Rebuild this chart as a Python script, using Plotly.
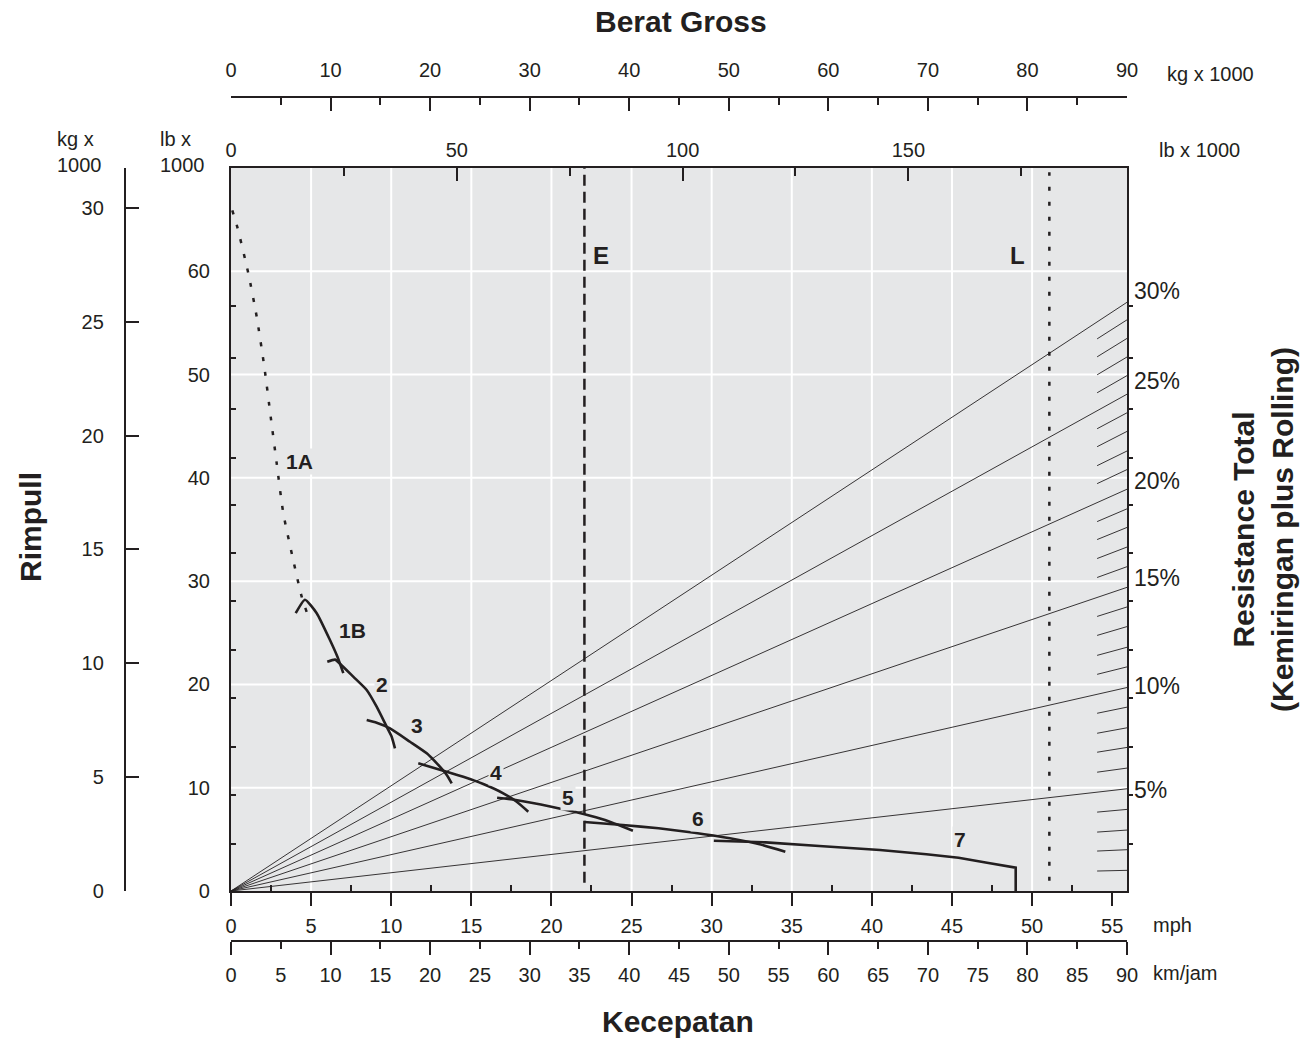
import plotly.graph_objects as go

# ---------------- data ----------------
KMH_PER_MPH = 1.609344
LB_PER_KG = 2.20462

# axes
mph_ticks = [0, 5, 10, 15, 20, 25, 30, 35, 40, 45, 50, 55]
mph_minor = [2.5, 7.5, 12.5, 17.5, 22.5, 27.5, 32.5, 37.5, 42.5, 47.5, 52.5]
kmh_labels = [0, 5, 10, 15, 20, 25, 30, 35, 40, 45, 50, 55, 60, 65, 70, 75, 80, 85, 90]
kmh_major = [0, 10, 20, 30, 40, 50, 60, 70, 80, 90]
kg_top_major = [0, 10, 20, 30, 40, 50, 60, 70, 80, 90]
kg_top_minor = [5, 15, 25, 35, 45, 55, 65, 75, 85]
lb_top_major = [0, 50, 100, 150]
lb_top_minor = [25, 75, 125, 175]
rimpull_klb_ticks = [0, 10, 20, 30, 40, 50, 60]
rimpull_kg_ticks = [0, 5, 10, 15, 20, 25, 30]
edge_minor_klb = [4.55, 9.25, 13.9, 18.65, 23.3, 28.05, 32.7, 37.35, 41.95, 46.65, 51.6, 56.6]
grid_mph = [5, 10, 15, 20, 25, 30, 35, 40, 45, 50]
grid_klb = [10, 20, 30, 40, 50, 60]

# total resistance lines (rimpull in lb x 1000 at 90 t gross weight)
max_weight_t = 90
grade_pct = [5, 10, 15, 20, 25, 30]
grade_end_klb = [9.9, 19.7, 29.4, 38.9, 48.1, 57.0]
hatch_pct = [1, 2, 3, 4, 6, 7, 8, 9, 11, 12, 13, 14, 16, 17, 18, 19,
             21, 22, 23, 24, 26, 27, 28, 29]
hatch_end_klb = [2.0, 4.0, 5.9, 7.9, 11.9, 13.9, 15.8, 17.8, 21.7, 23.6, 25.6, 27.5,
                 31.4, 33.3, 35.2, 37.0, 40.8, 42.6, 44.5, 46.3, 49.9, 51.7, 53.5, 55.3]
hatch_start_t = 87

# empty (E) and loaded (L) gross weight, t
empty_weight_t = 35.5
loaded_weight_t = 82.2

# rimpull curves: speed km/h, rimpull lb x 1000
g1a_kmh = [0.13, 0.63, 1.74, 2.58, 3.34, 3.99, 4.59, 5.25, 6.26, 7.10, 7.93]
g1a_klb = [65.9, 64.3, 59.8, 55.6, 50.8, 45.9, 41.4, 36.6, 32.0, 28.5, 26.1]
g1b_kmh = [6.50, 7.43, 8.61, 9.94, 10.68, 11.28]
g1b_klb = [26.9, 28.2, 26.9, 24.3, 22.7, 21.1]
g2_kmh = [9.67, 10.45, 10.95, 12.28, 13.63, 14.63, 15.64, 16.14, 16.47]
g2_klb = [22.2, 22.4, 22.0, 20.75, 19.46, 17.84, 15.9, 14.94, 13.81]
g3_kmh = [13.63, 14.63, 15.97, 17.98, 19.66, 20.82, 21.67, 22.17]
g3_klb = [16.55, 16.29, 15.75, 14.45, 13.33, 12.2, 11.23, 10.42]
g4_kmh = [18.81, 21.32, 23.33, 25.34, 27.35, 28.70, 29.86]
g4_klb = [12.36, 11.65, 11.06, 10.36, 9.46, 8.64, 7.68]
g5_kmh = [26.73, 28.60, 32.18, 35.42, 37.57, 40.37]
g5_klb = [9.03, 8.81, 8.16, 7.45, 6.87, 5.84]
g6_kmh = [35.49, 39.36, 42.95, 46.54, 50.12, 52.99, 55.68]
g6_klb = [6.68, 6.39, 6.07, 5.64, 5.10, 4.55, 3.80]
g7_kmh = [48.50, 53.71, 59.09, 65.19, 69.85, 73.08, 75.94, 78.82, 78.82]
g7_klb = [4.87, 4.71, 4.36, 3.97, 3.55, 3.22, 2.74, 2.26, 0.0]

curve_labels = ["1A", "1B", "2", "3", "4", "5", "6", "7"]
curve_label_kmh = [6.83, 12.25, 15.12, 18.71, 26.6, 33.8, 46.9, 73.26]
curve_label_klb = [41.54, 25.26, 20.04, 16.07, 11.49, 9.1, 7.04, 5.0]

# ---------------- style / layout ----------------
INK = "#231f20"
BG = "#e6e7e8"
FONT = "Liberation Sans, Arial, Helvetica, sans-serif"
TICK_SIZE = 20

W, H = 1304, 1041
ML, MR, MT, MB = 125, 177, 97, 100
PW = W - ML - MR
PH = H - MT - MB


def pxx(x):
    return (x - ML) / PW


def pxy(y):
    return (H - MB - y) / PH


x_dom = [pxx(231), pxx(1127)]
y_dom = [pxy(891), pxy(168)]
Y_TOP = 70

fig = go.Figure()

# resistance lines
for g, v in zip(grade_pct, grade_end_klb):
    fig.add_trace(go.Scatter(x=[0, max_weight_t], y=[0, v], xaxis="x2", yaxis="y",
                             mode="lines", line=dict(color=INK, width=0.9),
                             hoverinfo="skip", showlegend=False))
hx, hy = [], []
for v in hatch_end_klb:
    hx += [hatch_start_t, max_weight_t, None]
    hy += [v * hatch_start_t / max_weight_t, v, None]
fig.add_trace(go.Scatter(x=hx, y=hy, xaxis="x2", yaxis="y", mode="lines",
                         line=dict(color=INK, width=0.9), hoverinfo="skip", showlegend=False))

# E and L lines
fig.add_trace(go.Scatter(x=[empty_weight_t, empty_weight_t], y=[0.8, Y_TOP], xaxis="x2", yaxis="y",
                         mode="lines", line=dict(color=INK, width=2.5, dash="11px,6px"),
                         hoverinfo="skip", showlegend=False))
fig.add_trace(go.Scatter(x=[loaded_weight_t, loaded_weight_t], y=[1.0, 69.6], xaxis="x2", yaxis="y",
                         mode="lines", line=dict(color=INK, width=2.5, dash="4px,11px"),
                         hoverinfo="skip", showlegend=False))

# rimpull curves
fig.add_trace(go.Scatter(x=g1a_kmh, y=g1a_klb, mode="lines",
                         line=dict(color=INK, width=2.5, dash="4px,11px", shape="spline", smoothing=0.6),
                         hoverinfo="skip", showlegend=False))
for xs, ys in [(g1b_kmh, g1b_klb), (g2_kmh, g2_klb), (g3_kmh, g3_klb), (g4_kmh, g4_klb),
               (g5_kmh, g5_klb), (g6_kmh, g6_klb)]:
    fig.add_trace(go.Scatter(x=xs, y=ys, mode="lines",
                             line=dict(color=INK, width=2.6, shape="spline", smoothing=0.5),
                             hoverinfo="skip", showlegend=False))
fig.add_trace(go.Scatter(x=g7_kmh, y=g7_klb, mode="lines", line=dict(color=INK, width=2.6),
                         hoverinfo="skip", showlegend=False))

# dummy empty traces so every extra axis is instantiated
for xa, ya in [("x3", "y"), ("x4", "y"), ("x5", "y"), ("x", "y2"), ("x", "y3")]:
    fig.add_trace(go.Scatter(x=[None], y=[None], xaxis=xa, yaxis=ya, mode="lines",
                             hoverinfo="skip", showlegend=False))

# grid
shapes = []
for m in grid_mph:
    shapes.append(dict(type="line", xref="x", yref="y", x0=m * KMH_PER_MPH, x1=m * KMH_PER_MPH,
                       y0=0, y1=Y_TOP, line=dict(color="white", width=2), layer="below"))
for k in grid_klb:
    shapes.append(dict(type="line", xref="x", yref="y", x0=0, x1=90, y0=k, y1=k,
                       line=dict(color="white", width=2), layer="below"))

tickfont = dict(family=FONT, size=TICK_SIZE, color=INK)
common = dict(showgrid=False, zeroline=False, tickcolor=INK, linecolor=INK, tickfont=tickfont,
              fixedrange=True)

annotations = []
for t, xk, yk in zip(curve_labels, curve_label_kmh, curve_label_klb):
    annotations.append(dict(text=t, x=xk, y=yk, xref="x", yref="y", showarrow=False,
                            font=dict(family=FONT, size=21, color=INK, weight="bold"),
                            bgcolor=BG, borderpad=1))
annotations.append(dict(text="E", x=empty_weight_t, y=61.5, xref="x2", yref="y", showarrow=False,
                        xanchor="center", xshift=17,
                        font=dict(family=FONT, size=24, color=INK, weight="bold")))
annotations.append(dict(text="L", x=loaded_weight_t, y=61.5, xref="x2", yref="y", showarrow=False,
                        xanchor="center", xshift=-32,
                        font=dict(family=FONT, size=24, color=INK, weight="bold")))
pct_shift = [-1, 2, 9, 8, 13, 11]
for g, v, s in zip(grade_pct, grade_end_klb, pct_shift):
    annotations.append(dict(text=f"{g}%", x=max_weight_t, y=v, xref="x2", yref="y", showarrow=False,
                            xanchor="left", xshift=5, yshift=s,
                            font=dict(family=FONT, size=23, color=INK)))


def paper_text(text, x, y, size=TICK_SIZE, bold=False, xanchor="center", angle=0, align="center"):
    f = dict(family=FONT, size=size, color=INK)
    if bold:
        f["weight"] = "bold"
    return dict(text=text, x=pxx(x), y=pxy(y), xref="paper", yref="paper", showarrow=False,
                xanchor=xanchor, yanchor="middle", textangle=angle, font=f, align=align)


annotations += [
    paper_text("Berat Gross", 681, 21, size=30, bold=True),
    paper_text("Kecepatan", 678, 1022, size=30, bold=True),
    paper_text("Rimpull", 30, 527, size=30, bold=True, angle=-90),
    paper_text("Resistance Total<br>(Kemiringan plus Rolling)", 1263, 530, size=30, bold=True, angle=-90),
    paper_text("kg x 1000", 1165, 74, xanchor="left"),
    paper_text("lb x 1000", 1157, 150, xanchor="left"),
    paper_text("mph", 1151, 925, xanchor="left"),
    paper_text("km/jam", 1151, 973, xanchor="left"),
    paper_text("kg x<br>1000", 55, 152, xanchor="left", align="left"),
    paper_text("lb x<br>1000", 158, 152, xanchor="left", align="left"),
]

fig.update_layout(
    width=W, height=H,
    margin=dict(l=ML, r=MR, t=MT, b=MB, autoexpand=False),
    paper_bgcolor="white", plot_bgcolor=BG, showlegend=False,
    font=dict(family=FONT, size=TICK_SIZE, color=INK),
    xaxis=dict(domain=x_dom, range=[0, 90],
               tickvals=[m * KMH_PER_MPH for m in mph_ticks], ticktext=[str(m) for m in mph_ticks],
               ticks="outside", ticklen=13, tickwidth=2.2,
               minor=dict(tickvals=[m * KMH_PER_MPH for m in mph_minor], ticks="inside",
                          ticklen=6, tickwidth=1.8, tickcolor=INK, showgrid=False),
               showline=True, linewidth=2.2, mirror=True, ticklabelstandoff=3, **common),
    xaxis2=dict(overlaying="x", anchor="y", side="top", range=[0, 90],
                tickvals=[v / LB_PER_KG for v in lb_top_major], ticktext=[str(v) for v in lb_top_major],
                ticks="inside", ticklen=13, tickwidth=2.2,
                minor=dict(tickvals=[v / LB_PER_KG for v in lb_top_minor], ticks="inside",
                           ticklen=8, tickwidth=2.2, tickcolor=INK, showgrid=False),
                showline=False, ticklabelstandoff=6, **common),
    xaxis3=dict(overlaying="x", anchor="free", position=1, side="top", range=[0, 90],
                tickvals=kg_top_major, ticktext=[str(v) for v in kg_top_major],
                ticks="inside", ticklen=13, tickwidth=2.2,
                minor=dict(tickvals=kg_top_minor, ticks="inside", ticklen=7, tickwidth=2.2,
                           tickcolor=INK, showgrid=False),
                showline=True, linewidth=2.2, ticklabelstandoff=11, **common),
    xaxis4=dict(overlaying="x", anchor="free", position=0, side="bottom", range=[0, 90],
                tickvals=kmh_labels, ticktext=[str(v) for v in kmh_labels],
                ticks="outside", ticklen=7, tickwidth=2.2,
                showline=True, linewidth=2.2, ticklabelstandoff=9, **common),
    xaxis5=dict(overlaying="x", anchor="free", position=0, side="bottom", range=[0, 90],
                tickvals=kmh_major, ticks="outside", ticklen=13, tickwidth=2.2,
                showticklabels=False, showline=False, **common),
    yaxis=dict(domain=y_dom, range=[0, Y_TOP],
               tickvals=rimpull_klb_ticks, ticktext=[str(v) for v in rimpull_klb_ticks],
               ticks="",
               minor=dict(tickvals=edge_minor_klb, ticks="inside", ticklen=5, tickwidth=1.6,
                          tickcolor=INK, showgrid=False),
               showline=True, linewidth=2.2, mirror=True, ticklabelstandoff=15, **common),
    yaxis2=dict(overlaying="y", anchor="x", side="right", range=[0, Y_TOP],
                tickvals=edge_minor_klb, ticks="outside", ticklen=5, tickwidth=1.6,
                showticklabels=False, showline=False, **common),
    yaxis3=dict(overlaying="y", anchor="free", position=0, side="left",
                range=[0, Y_TOP / LB_PER_KG],
                tickvals=rimpull_kg_ticks, ticktext=[str(v) for v in rimpull_kg_ticks],
                ticks="inside", ticklen=13, tickwidth=2.4,
                showline=True, linewidth=2.4, ticklabelstandoff=16, **common),
    shapes=shapes,
    annotations=annotations,
)

fig.write_html("out.html")
